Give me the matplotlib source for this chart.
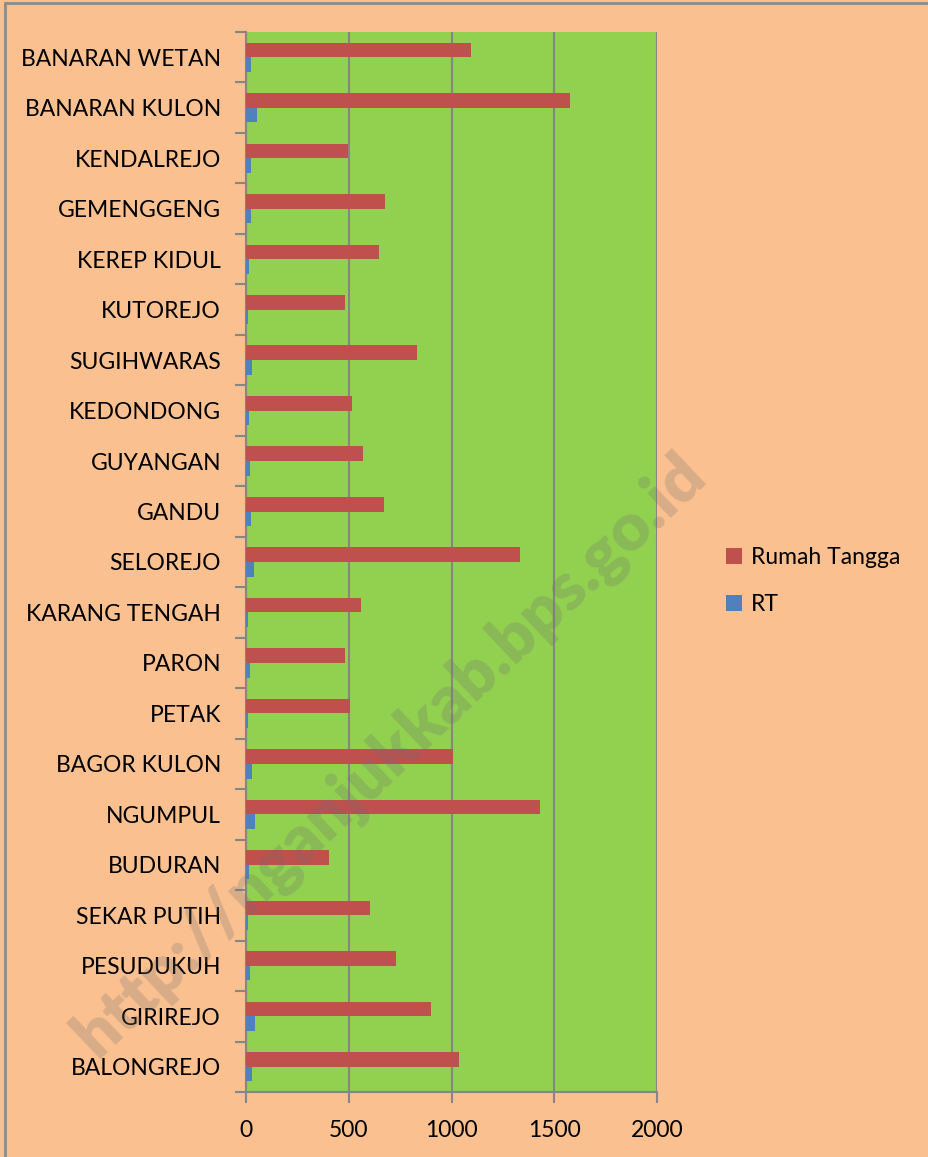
import matplotlib
matplotlib.use('Agg')
import matplotlib.pyplot as plt
from matplotlib.patches import Rectangle
import numpy as np

plt.rcParams['font.family'] = ['Lato', 'DejaVu Sans']

# desa, dari bawah ke atas
desa = ['BALONGREJO', 'GIRIREJO', 'PESUDUKUH', 'SEKAR PUTIH', 'BUDURAN',
        'NGUMPUL', 'BAGOR KULON', 'PETAK', 'PARON', 'KARANG TENGAH',
        'SELOREJO', 'GANDU', 'GUYANGAN', 'KEDONDONG', 'SUGIHWARAS',
        'KUTOREJO', 'KEREP KIDUL', 'GEMENGGENG', 'KENDALREJO',
        'BANARAN KULON', 'BANARAN WETAN']
rumah_tangga = [1035, 899, 729, 602, 402, 1431, 1007, 506, 481, 561,
                1333, 670, 567, 517, 832, 482, 647, 676, 498, 1578, 1097]
rt = [31, 44, 20, 8, 13, 45, 27, 8, 19, 8,
      39, 24, 18, 15, 29, 11, 13, 23, 24, 52, 23]
x_ticks = [0, 500, 1000, 1500, 2000]

BG = '#FAC090'
GREEN = '#92D050'
RED = '#C0504D'
BLUE = '#4F81BD'
GRID = '#868686'
FS = 16.5

fig = plt.figure(figsize=(9.29, 11.57), dpi=100, facecolor=BG)
ax = fig.add_axes([246 / 929, 1 - 1092 / 1157, 411 / 929, 1060 / 1157])
ax.set_facecolor(GREEN)

y = np.arange(len(desa))
h = 0.29
ax.barh(y + h / 2, rumah_tangga, height=h, color=RED, label='Rumah Tangga', zorder=3)
ax.barh(y - h / 2, rt, height=h, color=BLUE, label='RT', zorder=3)

ax.set_xlim(0, 2000)
ax.set_ylim(-0.5, len(desa) - 0.5)
ax.set_xticks(x_ticks)
ax.set_xticklabels([str(v) for v in x_ticks], fontsize=FS)
ax.xaxis.grid(True, color=GRID, linewidth=1.5, zorder=1)

# label desa di tengah, tick di batas kategori
ax.set_yticks(y)
ax.set_yticklabels(desa, fontsize=FS)
ax.tick_params(axis='y', which='major', length=0, pad=18)
ax.set_yticks(np.arange(-0.5, len(desa), 1), minor=True)
ax.tick_params(axis='y', which='minor', length=8, width=1.5, color=GRID)
ax.tick_params(axis='x', length=8, width=1.5, color=GRID, pad=12)

for s in ['top', 'right']:
    ax.spines[s].set_visible(False)
ax.spines['left'].set_color(GRID)
ax.spines['left'].set_linewidth(1.5)
ax.spines['bottom'].set_color(GRID)
ax.spines['bottom'].set_linewidth(1.5)

leg = ax.legend(loc='center left', bbox_to_anchor=(1.145, 0.482), frameon=False,
                fontsize=FS, handlelength=0.7, handleheight=0.7,
                handletextpad=0.4, labelspacing=1.15, borderaxespad=0)

# watermark
fig.text(390 / 929, 1 - 755 / 1157, 'http://nganjukkab.bps.go.id',
         fontsize=48, fontweight='heavy', rotation=43.5, color='#6f6f6f',
         alpha=0.25, ha='center', va='center', zorder=10)

# bingkai
fig.patches.append(Rectangle((5 / 929, -0.1), 1.2, 1 - 3 / 1157 + 0.1,
                             transform=fig.transFigure, fill=False,
                             edgecolor='#8c8c8c', linewidth=2))

fig.savefig('out.png', dpi=100, facecolor=BG)
